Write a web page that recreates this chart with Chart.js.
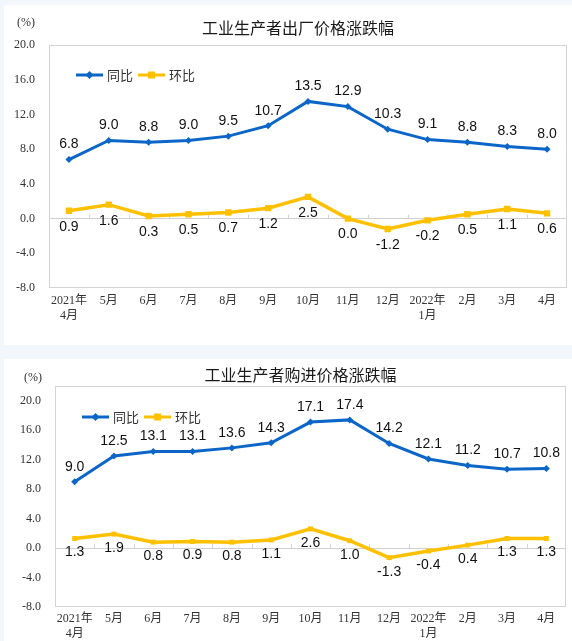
<!DOCTYPE html>
<html>
<head>
<meta charset="utf-8">
<script src="https://cdn.jsdelivr.net/npm/chart.js@4"></script>
<style>
body { margin: 0; background: #f2f7fc; width: 572px; height: 641px; position: relative; overflow: hidden; }
.panel { position: absolute; left: 4px; width: 568px; background: #fff; }
#p1 { top: 5px; height: 340px; }
#p2 { top: 359px; height: 282px; }
canvas { display: block; }
</style>
</head>
<body>
<div class="panel" id="p1"><canvas id="ppiChart" width="568" height="340"></canvas></div>
<div class="panel" id="p2"><canvas id="ippChart" width="568" height="282"></canvas></div>
<script>
// months on the x axis
const months = [['2021年', '4月'], '5月', '6月', '7月', '8月', '9月', '10月', '11月', '12月', ['2022年', '1月'], '2月', '3月', '4月'];

// 出厂价格 (PPI)
const ppiYoY = [6.8, 9.0, 8.8, 9.0, 9.5, 10.7, 13.5, 12.9, 10.3, 9.1, 8.8, 8.3, 8.0];
const ppiMoM = [0.9, 1.6, 0.3, 0.5, 0.7, 1.2, 2.5, 0.0, -1.2, -0.2, 0.5, 1.1, 0.6];

// 购进价格
const ippYoY = [9.0, 12.5, 13.1, 13.1, 13.6, 14.3, 17.1, 17.4, 14.2, 12.1, 11.2, 10.7, 10.8];
const ippMoM = [1.3, 1.9, 0.8, 0.9, 0.8, 1.1, 2.6, 1.0, -1.3, -0.4, 0.4, 1.3, 1.3];

const yTicks = [-8, -4, 0, 4, 8, 12, 16, 20];

const BLUE = '#0b66c8';
const YELLOW = '#ffc000';
const SERIF = '"Liberation Serif", "Noto Sans CJK SC", serif';
const SANS = '"Liberation Sans", "Noto Sans CJK SC", sans-serif';
const CJK = '"Noto Sans CJK SC", sans-serif';

// frame, zero-line ticks, data labels, legend and titles
const decor = {
    id: 'decor',
    beforeDatasetsDraw(chart) {
        const ctx = chart.ctx;
        const a = chart.chartArea;
        const xs = chart.scales.x;
        const zeroY = chart.scales.y.getPixelForValue(0);
        ctx.save();
        ctx.strokeStyle = '#d4d4d4';
        ctx.lineWidth = 1;
        ctx.strokeRect(a.left + 0.5, a.top + 0.5, a.right - a.left - 1, a.bottom - a.top - 1);
        ctx.beginPath();
        for (let i = 0; i < months.length - 1; i++) {
            const bx = Math.round((xs.getPixelForValue(i) + xs.getPixelForValue(i + 1)) / 2) + 0.5;
            ctx.moveTo(bx, zeroY);
            ctx.lineTo(bx, zeroY - 4);
        }
        ctx.stroke();
        ctx.restore();
    },
    afterDatasetsDraw(chart, args, opts) {
        const ctx = chart.ctx;
        const a = chart.chartArea;
        ctx.save();
        // data labels
        ctx.font = '14px ' + SANS;
        ctx.fillStyle = '#111';
        ctx.textAlign = 'center';
        ctx.textBaseline = 'middle';
        chart.data.datasets.forEach((ds, di) => {
            const meta = chart.getDatasetMeta(di);
            meta.data.forEach((pt, i) => {
                const dy = di === 0 ? -opts.above : opts.below;
                ctx.fillText(ds.data[i].toFixed(1), pt.x, pt.y + dy);
            });
        });
        // legend inside the plot
        let lx = a.left + 27;
        const ly = a.top + opts.legendY;
        ctx.font = '13px ' + CJK;
        ctx.textAlign = 'left';
        chart.data.datasets.forEach(ds => {
            ctx.strokeStyle = ds.borderColor;
            ctx.lineWidth = 3;
            ctx.beginPath();
            ctx.moveTo(lx, ly);
            ctx.lineTo(lx + 27, ly);
            ctx.stroke();
            ctx.fillStyle = ds.borderColor;
            const mx = lx + 13.5;
            if (ds.pointStyle === 'rect') {
                ctx.fillRect(mx - 3.5, ly - 3.5, 7, 7);
            } else {
                ctx.beginPath();
                ctx.moveTo(mx, ly - 4); ctx.lineTo(mx + 4, ly); ctx.lineTo(mx, ly + 4); ctx.lineTo(mx - 4, ly);
                ctx.closePath();
                ctx.fill();
            }
            ctx.fillStyle = '#333';
            ctx.fillText(ds.label, lx + 31, ly);
            lx += 31 + ctx.measureText(ds.label).width + 5;
        });
        // title and unit
        ctx.font = '16px ' + CJK;
        ctx.fillStyle = '#1a1a1a';
        ctx.textAlign = 'center';
        ctx.fillText(opts.title, (a.left + a.right) / 2 - 10, opts.titleY);
        ctx.font = '12px ' + SERIF;
        ctx.fillStyle = '#333';
        ctx.fillText('(%)', opts.unitX, opts.unitY);
        ctx.restore();
    }
};

function makeChart(id, yoy, mom, cfg) {
    new Chart(document.getElementById(id), {
        type: 'line',
        data: {
            labels: months,
            datasets: [{
                label: '同比',
                data: yoy,
                borderColor: BLUE,
                backgroundColor: BLUE,
                borderWidth: 3,
                pointStyle: 'rectRot',
                pointRadius: 3.5,
                pointBorderWidth: 0,
                tension: 0
            }, {
                label: '环比',
                data: mom,
                borderColor: YELLOW,
                backgroundColor: YELLOW,
                borderWidth: 3.5,
                pointStyle: 'rect',
                pointRadius: cfg.sq,
                pointBorderWidth: 0,
                tension: 0
            }]
        },
        options: {
            responsive: false,
            animation: false,
            layout: { padding: { top: cfg.top, right: cfg.right, left: 0, bottom: 0 } },
            scales: {
                x: {
                    offset: true,
                    afterFit: s => { s.height = cfg.xh; },
                    grid: { display: false, drawTicks: false },
                    border: { display: false },
                    ticks: {
                        color: '#333',
                        padding: cfg.xpad,
                        maxRotation: 0,
                        autoSkip: false,
                        font: { family: SERIF, size: 12, lineHeight: 1.25 }
                    }
                },
                y: {
                    min: -8,
                    max: cfg.ymax,
                    afterFit: s => { s.width = cfg.yw; },
                    afterBuildTicks: s => { s.ticks = yTicks.map(v => ({ value: v })); },
                    border: { display: false },
                    grid: {
                        drawTicks: false,
                        color: c => (c.tick && c.tick.value === 0 ? '#d0d0d0' : 'rgba(0,0,0,0)')
                    },
                    ticks: {
                        color: '#333',
                        padding: 14,
                        font: { family: SERIF, size: 12 },
                        callback: v => Number(v).toFixed(1)
                    }
                }
            },
            plugins: {
                legend: { display: false },
                tooltip: { enabled: false },
                decor: cfg.decor
            }
        },
        plugins: [decor]
    });
}

makeChart('ppiChart', ppiYoY, ppiMoM, {
    top: 40, right: 5, xh: 57, yw: 45, xpad: 5, ymax: 20, sq: 4.5,
    decor: { title: '工业生产者出厂价格涨跌幅', titleY: 23, unitX: 22, unitY: 18, above: 15, below: 16, legendY: 30 }
});

makeChart('ippChart', ippYoY, ippMoM, {
    top: 27, right: 6, xh: 34, yw: 51, xpad: 4, ymax: 22, sq: 3.5,
    decor: { title: '工业生产者购进价格涨跌幅', titleY: 16, unitX: 29, unitY: 19, above: 15, below: 14, legendY: 31 }
});
</script>
</body>
</html>
